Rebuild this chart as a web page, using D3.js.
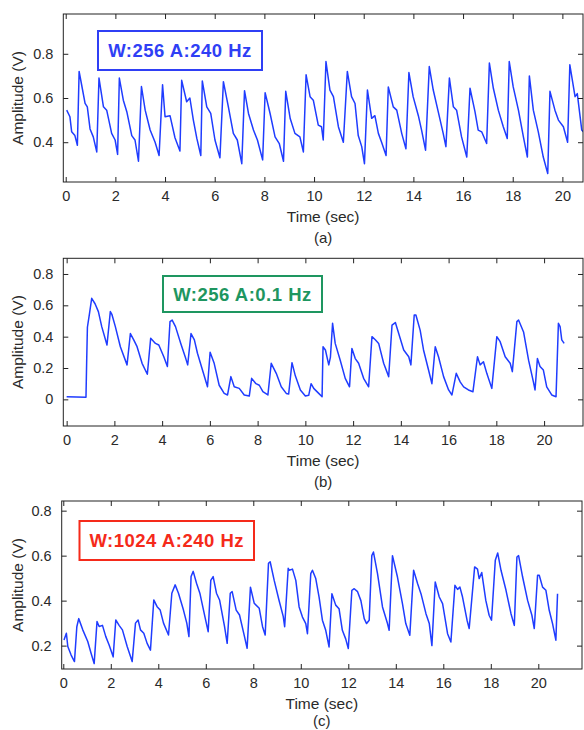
<!DOCTYPE html>
<html>
<head>
<meta charset="utf-8">
<script src="https://cdn.jsdelivr.net/npm/d3@7/dist/d3.min.js"></script>
<style>
html,body{margin:0;padding:0;background:#fff;}
svg text{font-family:"Liberation Sans",Arial,Helvetica,sans-serif;}
</style>
</head>
<body>
<svg id="chart" width="584" height="730"></svg>
<script>
// ---------- DATA ----------
const xTicks = [0,2,4,6,8,10,12,14,16,18,20];

const titleA = "W:256 A:240 Hz";
const titleB = "W:256 A:0.1 Hz";
const titleC = "W:1024 A:240 Hz";
const panelLabels = ["(a)","(b)","(c)"];
const xLabel = "Time (sec)";
const yLabel = "Amplitude (V)";

const yTicksA = [0.4,0.6,0.8];
const yTicksB = [0,0.2,0.4,0.6,0.8];
const yTicksC = [0.2,0.4,0.6,0.8];

const timeA = [0.04,0.17,0.24,0.37,0.47,0.54,0.64,0.78,0.87,0.98,1.11,1.25,1.34,1.52,1.65,1.85,1.99,2.09,2.16,2.32,2.46,2.66,2.79,2.93,3.05,3.2,3.4,3.6,3.76,3.9,4.0,4.2,4.4,4.6,4.67,4.87,5.0,5.14,5.28,5.44,5.5,5.68,5.84,6.01,6.21,6.35,6.55,6.75,6.91,7.09,7.2,7.36,7.56,7.72,7.93,8.03,8.23,8.43,8.6,8.77,8.86,9.04,9.23,9.43,9.57,9.68,9.84,9.97,10.17,10.3,10.37,10.48,10.64,10.78,10.98,11.18,11.34,11.51,11.65,11.78,11.92,12.03,12.15,12.32,12.45,12.59,12.72,12.9,12.99,13.19,13.33,13.53,13.7,13.82,13.99,14.2,14.33,14.49,14.64,14.8,15.0,15.2,15.31,15.45,15.61,15.74,15.94,16.15,16.28,16.48,16.61,16.75,16.95,17.06,17.22,17.42,17.62,17.78,17.86,18.02,18.23,18.43,18.59,18.67,18.83,19.03,19.23,19.41,19.5,19.7,19.84,20.04,20.21,20.3,20.51,20.6,20.78,20.84];
const ampA = [0.545,0.515,0.447,0.43,0.386,0.72,0.66,0.576,0.56,0.46,0.424,0.356,0.69,0.56,0.545,0.44,0.41,0.345,0.69,0.59,0.538,0.43,0.41,0.314,0.652,0.545,0.455,0.40,0.34,0.66,0.515,0.52,0.42,0.36,0.68,0.583,0.6,0.5,0.417,0.34,0.677,0.56,0.53,0.41,0.33,0.674,0.56,0.44,0.41,0.303,0.633,0.53,0.455,0.41,0.32,0.624,0.53,0.424,0.394,0.314,0.63,0.507,0.44,0.424,0.356,0.705,0.606,0.59,0.477,0.47,0.41,0.765,0.636,0.606,0.47,0.40,0.72,0.606,0.575,0.43,0.38,0.303,0.636,0.508,0.52,0.44,0.40,0.34,0.65,0.56,0.545,0.44,0.37,0.715,0.606,0.52,0.455,0.364,0.742,0.636,0.538,0.44,0.38,0.69,0.56,0.545,0.424,0.333,0.644,0.538,0.455,0.447,0.394,0.758,0.644,0.545,0.47,0.417,0.765,0.65,0.545,0.424,0.333,0.70,0.545,0.447,0.333,0.258,0.63,0.545,0.50,0.47,0.40,0.75,0.606,0.62,0.455,0.447];

const timeB = [0,0.81,0.84,0.87,0.96,1.05,1.19,1.33,1.47,1.69,1.83,1.9,2.04,2.25,2.53,2.67,2.81,2.95,3.16,3.38,3.52,3.72,3.86,4.07,4.22,4.33,4.42,4.56,4.78,4.99,5.07,5.21,5.35,5.48,5.69,5.9,6.01,6.18,6.39,6.6,6.74,6.88,7.02,7.23,7.44,7.65,7.75,7.93,8.07,8.22,8.43,8.57,8.78,8.99,9.2,9.3,9.44,9.58,9.79,10.0,10.14,10.24,10.35,10.56,10.7,10.74,10.84,10.98,11.05,11.14,11.25,11.46,11.67,11.85,11.95,12.09,12.23,12.44,12.65,12.79,12.93,13.07,13.28,13.49,13.63,13.77,13.91,14.12,14.33,14.42,14.56,14.63,14.81,14.95,15.16,15.3,15.44,15.58,15.79,16.0,16.14,16.32,16.49,16.63,16.83,17.02,17.21,17.32,17.46,17.6,17.81,18.02,18.16,18.37,18.58,18.67,18.86,18.93,19.14,19.35,19.55,19.62,19.72,19.83,19.97,20.11,20.32,20.5,20.6,20.67,20.74,20.84];
const ampB = [0.017,0.013,0.25,0.46,0.55,0.645,0.61,0.56,0.464,0.347,0.56,0.54,0.464,0.336,0.22,0.42,0.38,0.336,0.23,0.16,0.39,0.357,0.347,0.272,0.21,0.496,0.506,0.464,0.357,0.26,0.22,0.42,0.38,0.294,0.187,0.08,0.30,0.23,0.09,0.038,0.028,0.145,0.08,0.07,0.028,0.021,0.134,0.10,0.09,0.049,0.028,0.23,0.166,0.08,0.038,0.034,0.234,0.15,0.06,0.021,0.026,0.10,0.07,0.038,0.017,0.336,0.315,0.22,0.27,0.485,0.357,0.25,0.134,0.08,0.325,0.26,0.23,0.134,0.08,0.40,0.38,0.357,0.23,0.145,0.474,0.49,0.42,0.315,0.272,0.22,0.538,0.538,0.44,0.315,0.187,0.10,0.336,0.27,0.145,0.06,0.028,0.166,0.11,0.08,0.06,0.049,0.272,0.22,0.24,0.166,0.07,0.40,0.368,0.272,0.23,0.177,0.496,0.506,0.43,0.25,0.113,0.06,0.26,0.21,0.187,0.08,0.028,0.017,0.485,0.464,0.38,0.357];

const timeC = [0.03,0.13,0.19,0.33,0.47,0.57,0.65,0.82,1.03,1.17,1.3,1.42,1.51,1.65,1.79,1.93,2.1,2.21,2.35,2.49,2.69,2.9,3.04,3.15,3.25,3.39,3.53,3.67,3.81,3.95,4.08,4.22,4.43,4.57,4.71,4.85,5.06,5.2,5.29,5.38,5.47,5.61,5.75,5.96,6.1,6.21,6.31,6.45,6.58,6.79,6.9,7.03,7.11,7.28,7.42,7.63,7.74,7.88,8.04,8.25,8.39,8.5,8.64,8.71,8.88,9.08,9.26,9.32,9.47,9.51,9.65,9.79,9.93,10.07,10.21,10.28,10.42,10.49,10.63,10.77,10.91,11.05,11.19,11.31,11.47,11.61,11.75,11.89,12.0,12.15,12.25,12.39,12.53,12.67,12.77,12.88,12.99,13.06,13.23,13.44,13.65,13.72,13.86,14.07,14.28,14.42,14.59,14.75,14.92,15.06,15.27,15.41,15.52,15.66,15.83,15.97,16.18,16.32,16.49,16.6,16.7,16.81,17.0,17.09,17.32,17.44,17.51,17.62,17.79,17.93,18.03,18.19,18.29,18.43,18.64,18.85,18.99,19.1,19.17,19.34,19.55,19.73,19.83,19.97,20.04,20.18,20.32,20.46,20.6,20.74,20.81];
const ampC = [0.225,0.255,0.196,0.158,0.129,0.284,0.32,0.27,0.218,0.166,0.12,0.307,0.285,0.29,0.24,0.203,0.15,0.314,0.29,0.27,0.196,0.129,0.30,0.314,0.27,0.255,0.21,0.18,0.403,0.373,0.358,0.30,0.247,0.433,0.47,0.433,0.358,0.30,0.24,0.507,0.53,0.477,0.433,0.33,0.262,0.49,0.507,0.433,0.403,0.284,0.21,0.433,0.44,0.358,0.336,0.24,0.188,0.46,0.388,0.366,0.284,0.247,0.566,0.573,0.49,0.403,0.33,0.284,0.544,0.535,0.54,0.49,0.372,0.327,0.298,0.253,0.52,0.535,0.498,0.416,0.313,0.268,0.194,0.431,0.38,0.364,0.268,0.23,0.187,0.446,0.453,0.44,0.40,0.32,0.298,0.313,0.60,0.616,0.52,0.372,0.298,0.268,0.60,0.505,0.387,0.298,0.246,0.535,0.475,0.431,0.342,0.298,0.20,0.483,0.416,0.387,0.253,0.216,0.468,0.45,0.46,0.416,0.313,0.276,0.55,0.54,0.498,0.525,0.401,0.335,0.313,0.58,0.612,0.535,0.446,0.342,0.29,0.594,0.60,0.505,0.401,0.335,0.276,0.513,0.513,0.46,0.446,0.357,0.298,0.224,0.431];

// ---------- LAYOUT ----------
const panels = [
  {t: timeA, v: ampA, yTicks: yTicksA, title: titleA, color: "#2f3ff5", label: panelLabels[0],
   left: 63.3, right: 583, top: 14, bottom: 182, xDom: [-0.097, 20.83], yDom: [0.22, 0.98],
   box: {x: 98, y: 31, w: 164, h: 39}, labelY: 242.5},
  {t: timeB, v: ampB, yTicks: yTicksB, title: titleB, color: "#1e9660", label: panelLabels[1],
   left: 63.3, right: 583, top: 258.3, bottom: 426, xDom: [-0.14, 21.63], yDom: [-0.17, 0.9],
   box: {x: 163, y: 276, w: 159, h: 36}, labelY: 486.5},
  {t: timeC, v: ampC, yTicks: yTicksC, title: titleC, color: "#f52a1a", label: panelLabels[2],
   left: 61.7, right: 582, top: 501, bottom: 669, xDom: [-0.067, 21.84], yDom: [0.096, 0.843],
   box: {x: 79.5, y: 521, w: 174.5, h: 39}, labelY: 725.5}
];

const svg = d3.select("#chart");
const lineColor = "#1f3cff";
const txtColor = "#2a2a2a";

panels.forEach(p => {
  const x = d3.scaleLinear().domain(p.xDom).range([p.left, p.right]);
  const y = d3.scaleLinear().domain(p.yDom).range([p.bottom, p.top]);
  const g = svg.append("g");

  const clipId = "clip" + p.label.replace(/[()]/g, "");
  svg.append("defs").append("clipPath").attr("id", clipId)
    .append("rect").attr("x", p.left).attr("y", p.top)
    .attr("width", p.right - p.left).attr("height", p.bottom - p.top);

  // data line
  const pts = p.t.map((t, i) => [t, p.v[i]]);
  g.append("path")
    .datum(pts)
    .attr("clip-path", `url(#${clipId})`)
    .attr("fill", "none")
    .attr("stroke", lineColor)
    .attr("stroke-width", 1.5)
    .attr("stroke-linejoin", "round")
    .attr("d", d3.line().x(d => x(d[0])).y(d => y(d[1])));

  const fmtY = d => d === 0 ? "0" : d3.format(".1f")(d);

  // axes with inward ticks
  const ax = g.append("g").attr("transform", `translate(0,${p.bottom})`)
    .call(d3.axisBottom(x).tickValues(xTicks).tickSize(-5).tickPadding(9).tickFormat(d3.format("d")));
  const axT = g.append("g").attr("transform", `translate(0,${p.top})`)
    .call(d3.axisTop(x).tickValues(xTicks).tickSize(-5).tickFormat(""));
  const ay = g.append("g").attr("transform", `translate(${p.left},0)`)
    .call(d3.axisLeft(y).tickValues(p.yTicks).tickSize(-5).tickPadding(10).tickFormat(fmtY));
  const ayR = g.append("g").attr("transform", `translate(${p.right},0)`)
    .call(d3.axisRight(y).tickValues(p.yTicks).tickSize(-5).tickFormat(""));
  [ax, axT, ay, ayR].forEach(a => {
    a.select(".domain").remove();
    a.selectAll(".tick line").attr("stroke", "#222");
    a.selectAll(".tick text").attr("fill", txtColor).style("font-size", "14.5px");
  });

  // frame
  g.append("rect").attr("x", p.left).attr("y", p.top)
    .attr("width", p.right - p.left).attr("height", p.bottom - p.top)
    .attr("fill", "none").attr("stroke", "#222").attr("stroke-width", 1);

  // axis labels
  const cx = (p.left + p.right) / 2;
  g.append("text").attr("x", cx).attr("y", p.bottom + 40)
    .attr("text-anchor", "middle").attr("fill", txtColor).style("font-size", "15.5px").text(xLabel);
  g.append("text").attr("x", cx).attr("y", p.labelY)
    .attr("text-anchor", "middle").attr("fill", txtColor).style("font-size", "15px").text(p.label);
  g.append("text")
    .attr("transform", `translate(23,${(p.top + p.bottom) / 2}) rotate(-90)`)
    .attr("text-anchor", "middle").attr("fill", txtColor).style("font-size", "15.5px").text(yLabel);

  // annotation box
  g.append("rect").attr("x", p.box.x).attr("y", p.box.y)
    .attr("width", p.box.w).attr("height", p.box.h)
    .attr("fill", "#fff").attr("stroke", p.color).attr("stroke-width", 2);
  g.append("text").attr("x", p.box.x + p.box.w / 2).attr("y", p.box.y + p.box.h / 2 + 6.5)
    .attr("text-anchor", "middle").attr("fill", p.color)
    .style("font-size", "18.5px").style("font-weight", "bold").style("letter-spacing", "0.5px")
    .text(p.title);
});
</script>
</body>
</html>
